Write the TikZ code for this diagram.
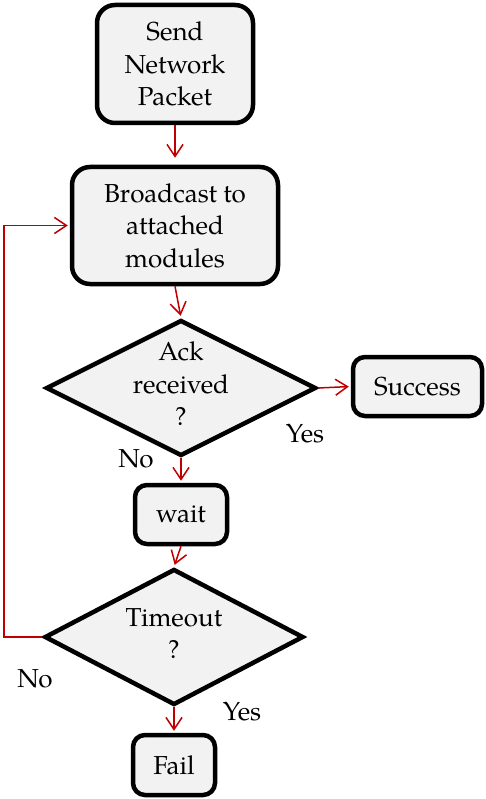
\documentclass[tikz,border=0pt]{standalone}
\usepackage{fontspec}
\setmainfont{TeX Gyre Pagella}
\usetikzlibrary{shapes.geometric,arrows.meta}
\definecolor{boxfill}{HTML}{F2F2F2}
\definecolor{arrowred}{HTML}{C00000}
\newcommand{\dtext}[1]{\raisebox{-10pt}{\smash{\begin{tabular}{@{}c@{}}#1\end{tabular}}}}
\begin{document}
\begin{tikzpicture}[x=1pt,y=-1pt,
  every node/.style={font=\fontsize{26}{32.5}\selectfont},
  proc/.style={draw, line width=4.5pt, fill=boxfill, rounded corners=18pt, align=center, inner sep=0pt},
  decision/.style={draw, line width=4.5pt, fill=boxfill, diamond, inner sep=0pt},
  flow/.style={draw=arrowred, line width=1.5pt, shorten >=2pt, -{Straight Barb[length=12pt,width=16pt]}},
  lbl/.style={inner sep=0pt}]
\useasboundingbox (0,0) rectangle (486,799);
\node[proc, minimum width=156pt, minimum height=118pt] (send) at (175,64) {Send\\Network\\Packet};
\node[proc, minimum width=206pt, minimum height=117pt] (bcast) at (175,225.5) {Broadcast to\\attached\\modules};
\node[decision, minimum width=270pt, minimum height=136pt] (ack) at (181,388) {\dtext{Ack\\received\\?}};
\node[proc, minimum width=129pt, minimum height=59pt, rounded corners=12pt] (succ) at (417.5,386.5) {Success};
\node[proc, minimum width=92pt, minimum height=59pt, rounded corners=12pt] (wait) at (181,514.5) {wait};
\node[decision, minimum width=259pt, minimum height=136pt] (tout) at (174,637) {\dtext{Timeout\\?}};
\node[proc, minimum width=82pt, minimum height=60pt, rounded corners=12pt] (fail) at (174,765) {Fail};
\node[lbl] (yes1) at (305,434) {Yes};
\node[lbl] (no1) at (136,459) {No};
\node[lbl] (no2) at (35,679) {No};
\node[lbl] (yes2) at (242,712) {Yes};
\coordinate (loop) at (4,0);
\draw[flow, shorten >=7pt] (send.south) -- (bcast.north);
\draw[flow] (bcast.south) -- (ack.north);
\draw[flow] (ack.east) -- (succ.west);
\draw[flow] (ack.south) -- (wait.north);
\draw[flow] (wait.south) -- (tout.north);
\draw[flow] (tout.south) -- (fail.north);
\draw[flow] (tout.west) -- (tout.west -| loop) |- (bcast.west);
\end{tikzpicture}
\end{document}
